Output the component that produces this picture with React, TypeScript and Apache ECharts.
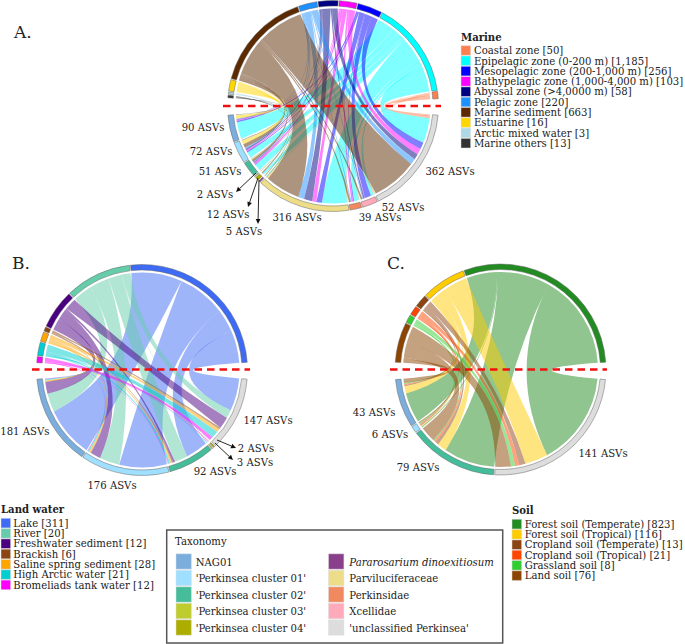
import React, { useEffect, useRef } from "react";
import * as echarts from "echarts";

const taxa = ["NAG01", "'Perkinsea cluster 01'", "'Perkinsea cluster 02'", "'Perkinsea cluster 03'", "'Perkinsea cluster 04'", "Pararosarium dinoexitiosum", "Parviluciferaceae", "Perkinsidae", "Xcellidae", "'unclassified Perkinsea'"];
const taxaColors = ["#7BAEDC", "#9FDFFF", "#45BD9B", "#BFCC2E", "#ADAD00", "#8A3F8A", "#EEDD88", "#F08860", "#FFAABB", "#DDDDDD"];

const marineNames = ["Coastal zone [50]", "Epipelagic zone (0-200 m) [1,185]", "Mesopelagic zone (200-1,000 m) [256]", "Bathypelagic zone (1,000-4,000 m) [103]", "Abyssal zone (>4,0000 m) [58]", "Pelagic zone [220]", "Marine sediment [663]", "Estuarine [16]", "Arctic mixed water [3]", "Marine others [13]"];
const marineColors = ["#FF7F50", "#00FFFF", "#0000FF", "#FF00FF", "#000080", "#1E90FF", "#5C2A00", "#FFD700", "#ADD8E6", "#333333"];
// rows: habitats; columns: NAG01, c01, c02, c03, c04, Par, Parvi, Perk, Xcell, uncl
const marineCoastal = [1, 1, 1, 0, 0, 0, 3, 2, 2, 14];
const marineEpi = [61, 22, 23, 1, 5, 2, 90, 18, 10, 90];
const marineMeso = [5, 4, 2, 0, 0, 0, 20, 3, 23, 25];
const marineBathy = [3, 5, 7, 0, 0, 0, 15, 6, 1, 22];
const marineAbyssal = [2, 5, 3, 0, 1, 0, 30, 0, 5, 20];
const marinePelagic = [3, 5, 3, 0, 1, 0, 22, 3, 3, 22];
const marineSediment = [0, 14, 8, 1, 3, 2, 128, 6, 6, 165];
const marineEstuarine = [12, 13, 2, 0, 2, 1, 4, 1, 1, 2];
const marineArctic = [1, 1, 1, 0, 0, 0, 2, 0, 1, 1];
const marineOthers = [2, 2, 1, 0, 0, 0, 2, 0, 0, 1];
const marineMatrix = [marineCoastal, marineEpi, marineMeso, marineBathy, marineAbyssal, marinePelagic, marineSediment, marineEstuarine, marineArctic, marineOthers];

const landNames = ["Lake [311]", "River [20]", "Freshwater sediment [12]", "Brackish [6]", "Saline spring sediment [28]", "High Arctic water [21]", "Bromeliads tank water [12]"];
const landColors = ["#3D6BF5", "#66CDAA", "#4B0082", "#8B4513", "#FFA500", "#00CED1", "#FF00FF"];
// columns: NAG01, c01, c02, c03, c04, Par, Parvi, Perk, Xcell, uncl
const landLake = [108, 102, 48, 1, 0, 0, 0, 0, 0, 70];
const landRiver = [40, 43, 28, 0, 1, 0, 0, 0, 0, 18];
const landFresh = [25, 22, 5, 0, 0, 0, 0, 0, 0, 25];
const landBrackish = [1, 1, 2, 0, 0, 0, 0, 0, 0, 4];
const landSaline = [3, 4, 4, 0, 1, 0, 0, 0, 0, 7];
const landArctic = [3, 3, 4, 1, 0, 0, 0, 0, 0, 15];
const landBromeliads = [1, 1, 1, 0, 1, 0, 0, 0, 0, 8];
const landMatrix = [landLake, landRiver, landFresh, landBrackish, landSaline, landArctic, landBromeliads];

const soilNames = ["Forest soil (Temperate) [823]", "Forest soil (Tropical) [116]", "Cropland soil (Temperate) [13]", "Cropland soil (Tropical) [21]", "Grassland soil [8]", "Land soil [76]"];
const soilColors = ["#228B22", "#FFCC00", "#8B4513", "#FF4500", "#32CD32", "#8B4500"];
const soilForestT = [29, 1, 49, 0, 0, 0, 0, 0, 0, 90];
const soilForestTr = [7, 1, 9, 0, 0, 0, 0, 0, 0, 22];
const soilCropT = [1, 1, 3, 0, 0, 0, 0, 0, 0, 6];
const soilCropTr = [1, 1, 2, 0, 0, 0, 0, 0, 0, 4];
const soilGrass = [1, 1, 1, 0, 0, 0, 0, 0, 0, 4];
const soilLand = [4, 1, 15, 0, 0, 0, 0, 0, 0, 15];
const soilMatrix = [soilForestT, soilForestTr, soilCropT, soilCropTr, soilGrass, soilLand];

const rad = (d: number) => (d * Math.PI) / 180;

function chordMarks(matrix: number[][], rowColors: string[], g: any) {
  const nR = matrix.length;
  const nC = taxa.length;
  const rowT = matrix.map((r) => r.reduce((a, b) => a + b, 0));
  const colT = taxa.map((_, c) => matrix.reduce((a, r) => a + r[c], 0));
  const total = rowT.reduce((a, b) => a + b, 0);
  const usedC = colT.filter((v) => v > 0).length;
  const topScale = (g.top[1] - g.top[0] - g.gap * (nR - 1)) / total;
  const botScale = (g.bot[1] - g.bot[0] - g.gap * (usedC - 1)) / total;
  const pt = (a: number, r: number) => `${(g.cx + r * Math.cos(rad(a))).toFixed(2)} ${(g.cy - r * Math.sin(rad(a))).toFixed(2)}`;
  const ringPath = (a0: number, a1: number) =>
    `M${pt(a0, g.rOut)}A${g.rOut} ${g.rOut} 0 0 0 ${pt(a1, g.rOut)}L${pt(a1, g.rIn)}A${g.rIn} ${g.rIn} 0 0 1 ${pt(a0, g.rIn)}Z`;
  const rings: any[] = [];
  const rowStart: number[] = [];
  const colStart: number[] = [];
  let a = g.top[0];
  rowT.forEach((v, i) => {
    rowStart[i] = a;
    rings.push({ d: ringPath(a, a + v * topScale), fill: rowColors[i], ring: 1 });
    a += v * topScale + g.gap;
  });
  a = g.bot[0];
  colT.forEach((v, i) => {
    colStart[i] = a;
    if (v > 0) {
      rings.push({ d: ringPath(a, a + v * botScale), fill: taxaColors[i], ring: 1 });
      a += v * botScale + g.gap;
    }
  });
  // positions inside each arc
  const rowPos: number[][] = matrix.map(() => []);
  rowStart.forEach((s, i) => {
    let p = s;
    for (let c = nC - 1; c >= 0; c--) {
      rowPos[i][c] = p;
      p += matrix[i][c] * topScale;
    }
  });
  const colPos: number[][] = matrix.map(() => []);
  colStart.forEach((s, c) => {
    let p = s;
    for (let i = nR - 1; i >= 0; i--) {
      colPos[i][c] = p;
      p += matrix[i][c] * botScale;
    }
  });
  const ribbons: any[] = [];
  const R = g.rRib;
  const ctl = (a0: number, a1: number) => {
    const m = (a0 + a1) / 2;
    const k = g.ctrl;
    let mid = m;
    if (Math.abs(a1 - a0) > 180) mid = m + 180;
    return pt(mid, R * k);
  };
  matrix.forEach((row, i) => {
    row.forEach((v, c) => {
      if (v <= 0) return;
      const h1 = rowPos[i][c];
      const h2 = h1 + v * topScale;
      const t1 = colPos[i][c];
      const t2 = t1 + v * botScale;
      ribbons.push({
        d:
          `M${pt(h1, R)}A${R} ${R} 0 0 0 ${pt(h2, R)}` +
          `Q${ctl(h2, t1)} ${pt(t1, R)}` +
          `A${R} ${R} 0 0 0 ${pt(t2, R)}` +
          `Q${ctl(t2, h1)} ${pt(h1, R)}Z`,
        fill: rowColors[i],
        ring: 0,
      });
    });
  });
  return [...ribbons, ...rings];
}

const geomA = { cx: 333, cy: 106, rOut: 105.5, rIn: 100, rRib: 97.5, top: [4, 175.5], bot: [185, 355], gap: 0.6, ctrl: 0.05 };
const geomB = { cx: 142, cy: 370, rOut: 105.5, rIn: 100, rRib: 97.5, top: [4.2, 176], bot: [185, 355], gap: 0.6, ctrl: 0.05 };
const geomC = { cx: 500.5, cy: 369.5, rOut: 105.5, rIn: 100, rRib: 97.5, top: [4, 176], bot: [185.5, 354.5], gap: 0.6, ctrl: 0.05 };

function chordSeries(marks: any[]) {
  return {
    type: "custom",
    coordinateSystem: "none",
    silent: true,
    clip: false,
    data: marks.map((_, i) => [i]),
    renderItem: (params: any) => {
      const m = marks[params.dataIndex];
      return {
        type: "path",
        shape: { pathData: m.d },
        style: m.ring
          ? { fill: m.fill, stroke: "#666666", lineWidth: 0.5 }
          : { fill: m.fill, opacity: 0.5 },
      };
    },
  };
}

const FONT = "'DejaVu Serif'";
const txt = (text: string, x: number, y: number, opt: any = {}) => ({
  type: "text",
  z: 100,
  silent: true,
  x,
  y,
  style: {
    text,
    fill: "#222222",
    fontFamily: FONT,
    fontSize: opt.size || 10.1,
    fontWeight: opt.weight || "normal",
    fontStyle: opt.style || "normal",
    align: opt.align || "left",
    textAlign: opt.align || "left",
    verticalAlign: "middle",
    textVerticalAlign: "middle",
  },
});
const swatch = (x: number, y: number, w: number, h: number, fill: string) => ({
  type: "rect",
  z: 100,
  silent: true,
  shape: { x, y, width: w, height: h },
  style: { fill, stroke: "#dddddd", lineWidth: 0.5 },
});
const redLine = (x1: number, x2: number, y: number) => ({
  type: "line",
  z: 100,
  silent: true,
  shape: { x1, y1: y, x2, y2: y },
  style: { stroke: "#F01010", lineWidth: 2.5, lineDash: [7.5, 5] },
});
const arrow = (x1: number, y1: number, x2: number, y2: number) => {
  const ang = Math.atan2(y2 - y1, x2 - x1);
  const L = 5;
  const W = 2.4;
  const bx = x2 - L * Math.cos(ang);
  const by = y2 - L * Math.sin(ang);
  return [
    { type: "line", z: 100, silent: true, shape: { x1, y1, x2: bx, y2: by }, style: { stroke: "#111", lineWidth: 0.9 } },
    {
      type: "polygon",
      z: 100,
      silent: true,
      shape: {
        points: [
          [x2, y2],
          [bx - W * Math.sin(ang), by + W * Math.cos(ang)],
          [bx + W * Math.sin(ang), by - W * Math.cos(ang)],
        ],
      },
      style: { fill: "#111" },
    },
  ];
};
const legendBlock = (title: string, names: string[], colors: string[], x: number, yTitle: number, yFirst: number, textX: number) => [
  txt(title, x, yTitle, { weight: "bold" }),
  ...names.flatMap((n, i) => [
    swatch(x, yFirst + i * 10.3 - 5, 9.6, 9.6, colors[i]),
    txt(n, textX, yFirst + i * 10.3, {}),
  ]),
];

const labelsA: [string, number, number][] = [
  ["90 ASVs", 203, 127], ["72 ASVs", 211, 151], ["51 ASVs", 220, 171], ["2 ASVs", 215, 194], ["12 ASVs", 228, 214],
  ["5 ASVs", 244, 231], ["316 ASVs", 297, 217], ["39 ASVs", 380, 217], ["52 ASVs", 403, 207], ["362 ASVs", 450, 171],
];
const labelsB: [string, number, number][] = [
  ["181 ASVs", 24.8, 431], ["176 ASVs", 112, 485], ["92 ASVs", 215, 471], ["147 ASVs", 268, 420], ["2 ASVs", 256, 448], ["3 ASVs", 255, 462],
];
const labelsC: [string, number, number][] = [
  ["43 ASVs", 374, 412], ["6 ASVs", 390, 434], ["79 ASVs", 418, 467], ["141 ASVs", 603, 453],
];

export default function App() {
  const ref = useRef<HTMLDivElement>(null);
  useEffect(() => {
    if (!ref.current) return;
    const chart = echarts.init(ref.current, null, { renderer: "svg" });
    const taxLegend: any[] = [
      { type: "rect", z: 100, silent: true, shape: { x: 166.7, y: 530, width: 336, height: 113 }, style: { fill: "#fff", stroke: "#555555", lineWidth: 1.5 } },
      txt("Taxonomy", 175, 541, {}),
    ];
    taxa.forEach((t, i) => {
      const col = i < 5 ? 0 : 1;
      const row = i % 5;
      const y = 561.5 + row * 16.5;
      const sx = col ? 328.5 : 176;
      const tx = col ? 349.3 : 195.7;
      taxLegend.push(swatch(sx, y - 7.7, 15.4, 15.4, taxaColors[i]));
      taxLegend.push(txt(t, tx, y + 0.5, { style: i === 5 ? "italic" : "normal" }));
    });
    const elements: any[] = [
      redLine(223, 441, 106),
      redLine(32, 250, 369.5),
      redLine(390, 607, 369.5),
      txt("A.", 14, 32, { size: 17 }),
      txt("B.", 12, 263, { size: 17 }),
      txt("C.", 387, 263, { size: 17 }),
      ...[...labelsA, ...labelsB, ...labelsC].map(([s, x, y]) => txt(s, x, y, { align: "center" })),
      ...arrow(256, 173, 236, 192),
      ...arrow(258, 178, 248, 207),
      ...arrow(259, 180, 258, 224),
      ...arrow(217, 440, 236, 448),
      ...arrow(215, 443, 233, 460),
      ...legendBlock("Marine", marineNames, marineColors, 461, 37, 50.7, 474),
      ...legendBlock("Land water", landNames, landColors, 1, 509.7, 523.3, 13.3),
      ...legendBlock("Soil", soilNames, soilColors, 512, 510.7, 524.3, 524.7),
      ...taxLegend,
    ];
    chart.setOption({
      animation: false,
      backgroundColor: "#ffffff",
      series: [
        chordSeries(chordMarks(marineMatrix, marineColors, geomA)),
        chordSeries(chordMarks(landMatrix, landColors, geomB)),
        chordSeries(chordMarks(soilMatrix, soilColors, geomC)),
      ],
      graphic: { elements },
    });
    return () => chart.dispose();
  }, []);
  return <div ref={ref} style={{ position: "fixed", left: 0, top: 0, width: 685, height: 644 }} />;
}
